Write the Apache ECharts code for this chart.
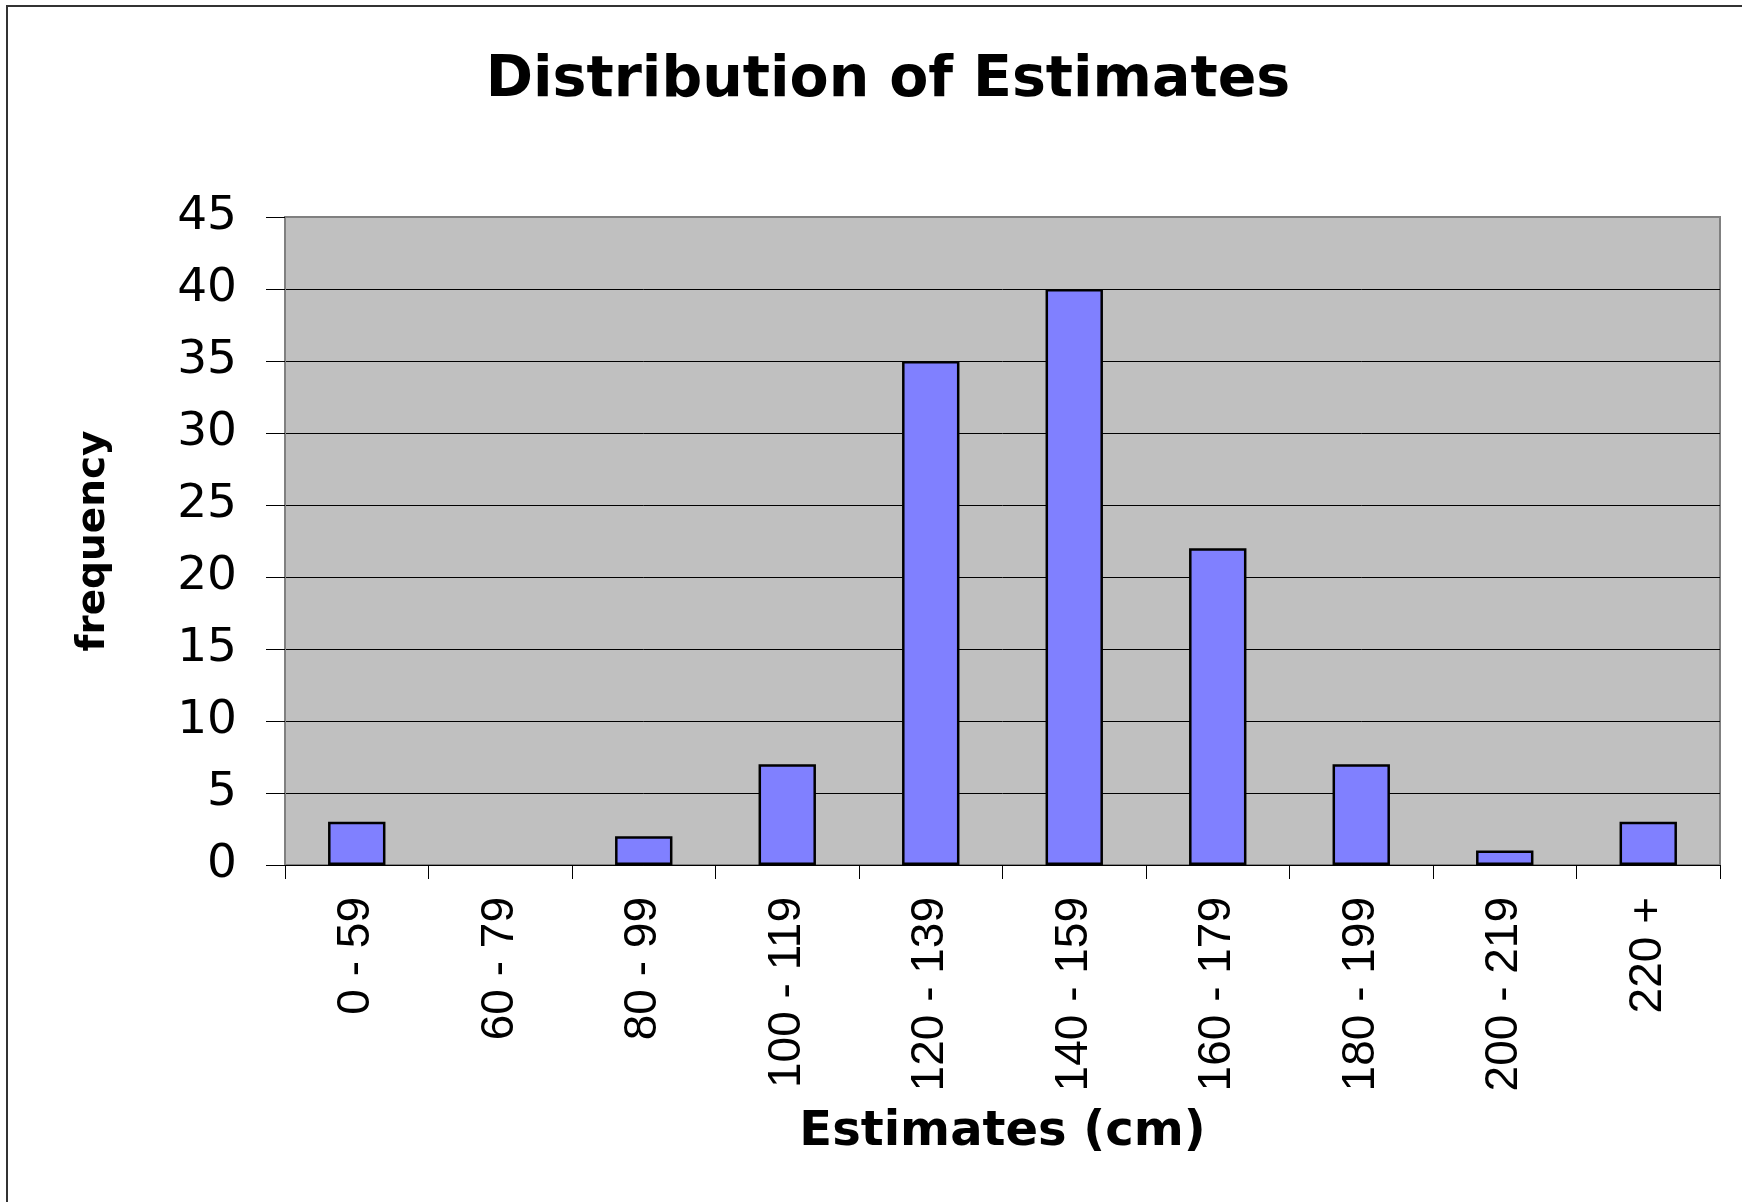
<!DOCTYPE html>
<html>
<head>
<meta charset="utf-8">
<script src="https://cdn.jsdelivr.net/npm/echarts@6/dist/echarts.min.js"></script>
<style>
  html, body { margin: 0; padding: 0; background: #ffffff; }
  #chart { width: 1742px; height: 1202px; }
</style>
</head>
<body>
<div id="chart"></div>
<script>
// Estimate ranges (cm) and how many estimates fell in each
const categories = ['0 - 59', '60 - 79', '80 - 99', '100 - 119', '120 - 139', '140 - 159', '160 - 179', '180 - 199', '200 - 219', '220 +'];
const frequency = [3, 0, 2, 7, 35, 40, 22, 7, 1, 3];
const yTicks = { min: 0, max: 45, step: 5 };

const chart = echarts.init(document.getElementById('chart'), null, { renderer: 'canvas' });

// empty bins get no outline so nothing is drawn on the baseline
const barData = frequency.map(v => v === 0 ? { value: v, itemStyle: { borderWidth: 0 } } : v);

chart.setOption({
  animation: false,
  backgroundColor: '#ffffff',
  graphic: [{
    type: 'rect',
    shape: { x: 7, y: 6, width: 2000, height: 2000 },
    style: { fill: 'none', stroke: '#333333', lineWidth: 2 },
    silent: true
  }],
  title: {
    text: 'Distribution of Estimates',
    left: 883,
    textAlign: 'center',
    top: 48,
    textStyle: { fontFamily: 'DejaVu Sans', fontWeight: 'bold', fontSize: 57, color: '#000000' }
  },
  grid: {
    left: 285, top: 217, right: 22, bottom: 337,
    show: true,
    backgroundColor: '#c0c0c0',
    borderColor: '#808080',
    borderWidth: 2
  },
  xAxis: {
    type: 'category',
    data: categories,
    boundaryGap: true,
    name: 'Estimates (cm)',
    nameLocation: 'middle',
    nameGap: 244,
    nameTextStyle: { fontFamily: 'DejaVu Sans', fontWeight: 'bold', fontSize: 48, color: '#000000' },
    axisLine: { show: true, lineStyle: { color: '#000000', width: 1 } },
    axisTick: { show: true, alignWithLabel: false, length: 14, lineStyle: { color: '#000000', width: 1 } },
    axisLabel: {
      rotate: 90,
      margin: 32,
      interval: 0,
      fontFamily: 'Liberation Sans',
      fontSize: 46,
      color: '#000000'
    },
    splitLine: { show: false }
  },
  yAxis: {
    type: 'value',
    min: yTicks.min,
    max: yTicks.max,
    interval: yTicks.step,
    name: 'frequency',
    nameLocation: 'middle',
    nameGap: 172,
    nameTextStyle: { fontFamily: 'DejaVu Sans', fontWeight: 'bold', fontSize: 39, color: '#000000' },
    axisLine: { show: true, lineStyle: { color: '#808080', width: 2 } },
    axisTick: { show: true, length: 19, lineStyle: { color: '#000000', width: 1 } },
    axisLabel: {
      margin: 48,
      fontFamily: 'DejaVu Sans',
      fontSize: 47,
      color: '#000000'
    },
    splitLine: { show: true, showMaxLine: false, lineStyle: { color: '#000000', width: 1 } }
  },
  series: [{
    type: 'bar',
    data: barData,
    barCategoryGap: '60%',
    itemStyle: { color: '#8080ff', borderColor: '#000000', borderWidth: 2.5 },
    silent: true
  }]
});
</script>
</body>
</html>
